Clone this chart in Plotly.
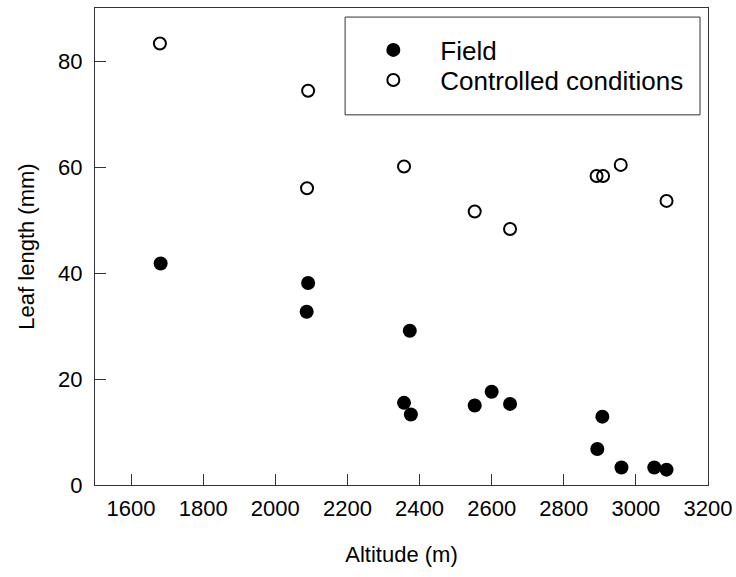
import plotly.graph_objects as go

field_alt = [1682, 2091, 2087, 2373, 2357, 2376, 2553, 2600, 2651, 2907, 2893, 2960, 3051, 3085]
field_len = [41.8, 38.1, 32.7, 29.1, 15.5, 13.3, 15.0, 17.6, 15.3, 12.9, 6.8, 3.3, 3.3, 2.9]

ctrl_alt = [1680, 2091, 2088, 2357, 2553, 2651, 2891, 2909, 2958, 3085]
ctrl_len = [83.3, 74.4, 56.0, 60.1, 51.6, 48.3, 58.3, 58.3, 60.4, 53.6]

x_ticks = [1600, 1800, 2000, 2200, 2400, 2600, 2800, 3000, 3200]
y_ticks = [0, 20, 40, 60, 80]

FONT = "Arial, Liberation Sans, sans-serif"

fig = go.Figure()
fig.add_trace(go.Scatter(
    x=field_alt, y=field_len, mode="markers", name="Field", legend="legend",
    marker=dict(symbol="circle", size=14, color="black", line=dict(width=0)),
))
fig.add_trace(go.Scatter(
    x=ctrl_alt, y=ctrl_len, mode="markers", name="Controlled conditions", legend="legend2",
    marker=dict(symbol="circle-open", size=12, color="black", line=dict(width=2, color="black")),
))

axis_common = dict(
    showgrid=False, zeroline=False, showline=True, linecolor="#333", linewidth=1,
    mirror=True, ticks="inside", ticklen=11, tickcolor="#333", tickwidth=1,
    automargin=False,
    tickfont=dict(family=FONT, size=22, color="black"),
    title_font=dict(family=FONT, size=22, color="black"),
)

fig.update_xaxes(range=[1500, 3200], tickvals=x_ticks, title_text="Altitude (m)",
                 ticklabelstandoff=4, title_standoff=26, **axis_common)
fig.update_yaxes(range=[0, 90], tickvals=y_ticks, title_text="Leaf length (mm)",
                 ticklabelstandoff=7, title_standoff=17, **axis_common)

fig.add_shape(type="rect", xref="paper", yref="paper",
              x0=0.408, x1=0.987, y0=0.776, y1=0.981,
              line=dict(color="#333", width=1), fillcolor="rgba(0,0,0,0)")

leg_common = dict(xanchor="left", yanchor="middle", bgcolor="rgba(0,0,0,0)",
                  borderwidth=0, itemwidth=84,
                  font=dict(family=FONT, size=26, color="black"))

fig.update_layout(
    width=736, height=577,
    margin=dict(l=95, r=28, t=8, b=92, autoexpand=False),
    plot_bgcolor="white", paper_bgcolor="white",
    showlegend=True,
    legend=dict(x=0.41, y=0.912, **leg_common),
    legend2=dict(x=0.41, y=0.849, **leg_common),
)

fig.write_html("out.html", config={"displayModeBar": False},
               post_script="document.body.style.margin='0px';document.body.style.overflow='hidden';")
